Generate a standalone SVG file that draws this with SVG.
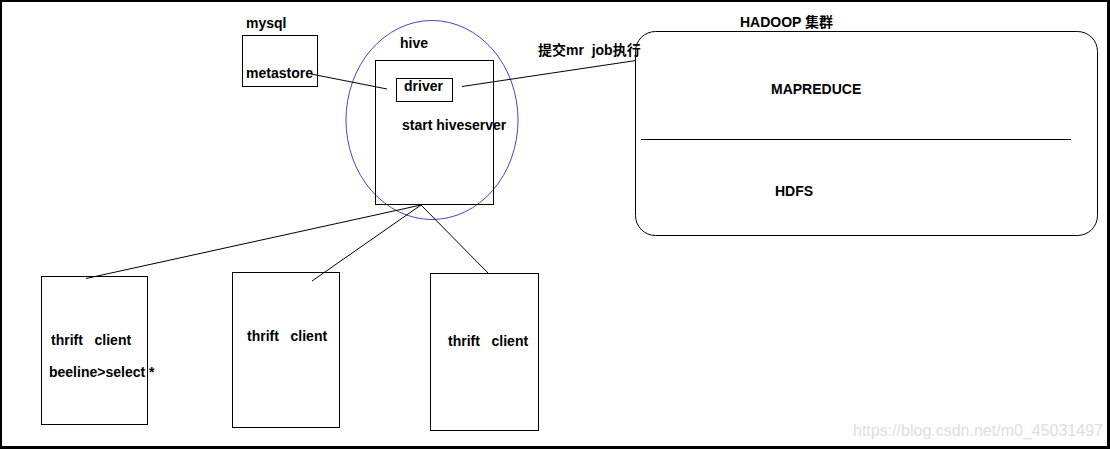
<svg xmlns="http://www.w3.org/2000/svg" width="1110" height="449" viewBox="0 0 1110 449">
<style>
.t{font-family:"Liberation Sans","Noto Sans CJK SC",Arial,sans-serif;font-weight:bold;font-size:14px;fill:#000;white-space:pre}
.b{fill:none;stroke:#000;stroke-width:1}
.c{fill:none;stroke:#000;stroke-width:1}
</style>
<rect x="0" y="0" width="1110" height="449" fill="#000"/>
<rect x="2" y="2" width="1105" height="444" fill="#fff"/>
<g id="mysql">
<text class="t" x="246" y="28">mysql</text>
<rect class="b" x="242.5" y="35.5" width="75" height="51"/>
<text class="t" x="246" y="78">metastore</text>
</g>
<g id="hive">
<ellipse cx="432" cy="120" rx="86" ry="99.5" fill="none" stroke="#4545c8" stroke-width="1"/>
<text class="t" x="400" y="48">hive</text>
<rect class="b" x="375.5" y="60.5" width="118" height="144"/>
<text class="t" x="402" y="130">start hiveserver</text>
</g>
<g id="driver">
<rect class="b" x="396.5" y="78.5" width="56" height="23"/>
<text class="t" x="404" y="91">driver</text>
</g>
<g id="hadoop">
<text class="t" x="740" y="27">HADOOP 集群</text>
<rect class="b" x="635.5" y="31.5" width="462" height="204" rx="20" ry="20"/>
<text class="t" x="771" y="94">MAPREDUCE</text>
<line class="b" x1="641" y1="139.5" x2="1071" y2="139.5"/>
<text class="t" x="775" y="196">HDFS</text>
</g>
<g id="client1">
<rect class="b" x="41.5" y="276.5" width="106" height="148"/>
<text class="t" x="51" y="345">thrift   client</text>
<text class="t" x="49" y="377">beeline&gt;select *</text>
</g>
<g id="client2">
<rect class="b" x="232.5" y="272.5" width="107" height="155"/>
<text class="t" x="247" y="341">thrift   client</text>
</g>
<g id="client3">
<rect class="b" x="430.5" y="273.5" width="108" height="157"/>
<text class="t" x="448" y="346">thrift   client</text>
</g>
<g id="connectors">
<line class="c" x1="311" y1="74" x2="387" y2="89"/>
<line class="c" x1="462" y1="86.5" x2="636" y2="60.5"/>
<text class="t" x="538" y="55">提交mr  job执行</text>
<line class="c" x1="421" y1="205" x2="86" y2="278.5"/>
<line class="c" x1="421" y1="205" x2="312" y2="281"/>
<line class="c" x1="421" y1="205" x2="488" y2="273"/>
</g>
<text x="853" y="436" font-family="Liberation Sans,Arial,sans-serif" font-size="16" fill="#dedede">https://blog.csdn.net/m0_45031497</text>
</svg>
